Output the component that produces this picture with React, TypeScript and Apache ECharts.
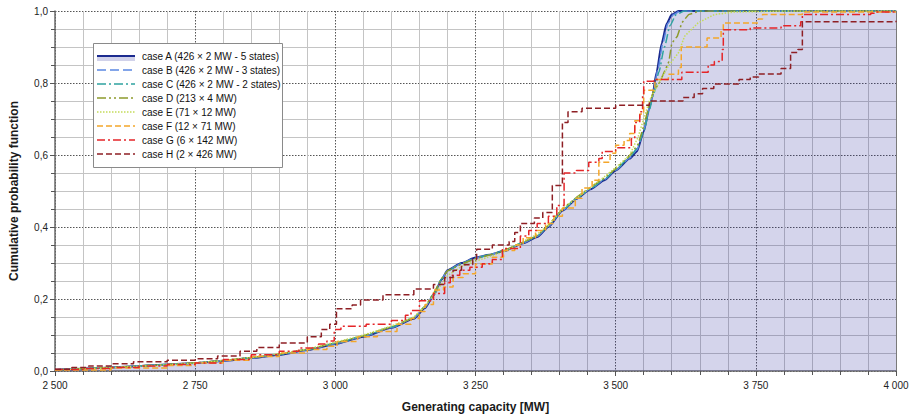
import React, { useEffect, useRef } from "react";
import * as echarts from "echarts";

type Pt = [number, number];

const caseNames = [
  "case A (426 × 2 MW - 5 states)",
  "case B (426 × 2 MW - 3 states)",
  "case C (426 × 2 MW - 2 states)",
  "case D (213 × 4 MW)",
  "case E (71 × 12 MW)",
  "case F (12 × 71 MW)",
  "case G (6 × 142 MW)",
  "case H (2 × 426 MW)",
];

const caseA: Pt[] = [[2500,0.003],[2550,0.006],[2600,0.01],[2650,0.014],[2700,0.018],[2750,0.022],[2800,0.028],[2850,0.036],[2900,0.045],[2950,0.058],[3000,0.075],[3050,0.095],[3100,0.12],[3140,0.145],[3160,0.175],[3175,0.21],[3190,0.255],[3200,0.28],[3225,0.3],[3250,0.315],[3275,0.323],[3300,0.333],[3335,0.355],[3360,0.372],[3380,0.4],[3405,0.445],[3430,0.478],[3455,0.505],[3480,0.53],[3500,0.557],[3525,0.59],[3538,0.61],[3550,0.665],[3560,0.73],[3565,0.76],[3573,0.83],[3582,0.91],[3591,0.965],[3600,0.99],[3612,1.0],[4000,1.0]];

const caseB: Pt[] = [[2500,0.003],[2600,0.01],[2700,0.018],[2750,0.022],[2800,0.028],[2850,0.036],[2900,0.046],[2950,0.059],[3000,0.076],[3050,0.096],[3100,0.121],[3140,0.147],[3160,0.178],[3175,0.212],[3190,0.256],[3200,0.279],[3225,0.299],[3250,0.314],[3275,0.323],[3300,0.334],[3335,0.356],[3360,0.374],[3380,0.402],[3405,0.446],[3430,0.479],[3455,0.506],[3480,0.532],[3500,0.558],[3525,0.592],[3538,0.615],[3550,0.668],[3560,0.73],[3566,0.765],[3575,0.835],[3584,0.91],[3593,0.965],[3603,0.99],[3615,1.0],[4000,1.0]];

const caseC: Pt[] = [[2500,0.003],[2600,0.01],[2700,0.018],[2750,0.022],[2800,0.029],[2850,0.037],[2900,0.046],[2950,0.059],[3000,0.077],[3050,0.097],[3100,0.122],[3140,0.148],[3160,0.179],[3175,0.213],[3190,0.256],[3200,0.278],[3225,0.298],[3250,0.313],[3275,0.323],[3300,0.334],[3335,0.357],[3360,0.375],[3380,0.403],[3405,0.447],[3430,0.48],[3455,0.507],[3480,0.533],[3500,0.56],[3525,0.594],[3538,0.618],[3550,0.665],[3560,0.725],[3567,0.765],[3577,0.83],[3587,0.9],[3597,0.96],[3608,0.99],[3622,1.0],[4000,1.0]];

const caseD: Pt[] = [[2500,0.003],[2600,0.01],[2700,0.018],[2750,0.023],[2800,0.029],[2850,0.037],[2900,0.047],[2950,0.06],[3000,0.078],[3050,0.098],[3100,0.123],[3140,0.148],[3160,0.18],[3175,0.215],[3190,0.258],[3200,0.278],[3225,0.297],[3250,0.312],[3275,0.322],[3300,0.334],[3335,0.358],[3360,0.376],[3380,0.405],[3405,0.45],[3430,0.482],[3455,0.51],[3480,0.536],[3500,0.562],[3525,0.598],[3540,0.63],[3550,0.68],[3560,0.74],[3567,0.775],[3578,0.8],[3588,0.835],[3595,0.86],[3600,0.91],[3610,0.93],[3618,0.967],[3630,0.99],[3650,1.0],[4000,1.0]];

const caseE: Pt[] = [[2500,0.003],[2600,0.009],[2700,0.017],[2750,0.022],[2800,0.029],[2850,0.038],[2900,0.048],[2950,0.061],[3000,0.08],[3050,0.1],[3100,0.125],[3140,0.15],[3160,0.18],[3180,0.22],[3200,0.265],[3225,0.29],[3250,0.305],[3300,0.33],[3335,0.36],[3360,0.38],[3380,0.405],[3405,0.45],[3430,0.48],[3455,0.51],[3480,0.54],[3500,0.565],[3525,0.6],[3540,0.65],[3550,0.7],[3560,0.75],[3577,0.8],[3594,0.847],[3612,0.884],[3623,0.93],[3647,0.967],[3676,0.99],[3711,0.997],[3800,1.0],[4000,1.0]];

const caseF: Pt[] = [[2500,0.003],[2600,0.008],[2700,0.015],[2750,0.022],[2800,0.03],[2850,0.04],[2900,0.05],[2950,0.06],[2985,0.069],[3003,0.082],[3040,0.095],[3075,0.11],[3110,0.13],[3135,0.146],[3150,0.165],[3160,0.185],[3175,0.225],[3193,0.233],[3210,0.26],[3228,0.27],[3250,0.297],[3280,0.316],[3300,0.335],[3320,0.35],[3335,0.37],[3357,0.39],[3375,0.41],[3390,0.43],[3405,0.453],[3428,0.48],[3440,0.508],[3458,0.53],[3470,0.58],[3490,0.605],[3500,0.627],[3515,0.64],[3525,0.66],[3534,0.695],[3543,0.714],[3550,0.78],[3570,0.81],[3594,0.824],[3612,0.843],[3617,0.9],[3663,0.925],[3688,0.948],[3692,0.967],[3754,0.978],[3762,0.99],[3833,0.997],[4000,0.998]];

const caseG: Pt[] = [[2500,0.004],[2550,0.007],[2600,0.01],[2650,0.014],[2700,0.018],[2750,0.022],[2800,0.032],[2850,0.045],[2900,0.055],[2935,0.064],[2970,0.075],[2985,0.083],[2998,0.115],[3010,0.124],[3055,0.13],[3100,0.14],[3125,0.155],[3135,0.168],[3150,0.195],[3175,0.215],[3195,0.245],[3205,0.266],[3222,0.28],[3240,0.288],[3262,0.298],[3280,0.31],[3298,0.34],[3330,0.375],[3345,0.39],[3360,0.41],[3380,0.43],[3395,0.46],[3408,0.55],[3430,0.557],[3452,0.58],[3470,0.59],[3476,0.61],[3500,0.62],[3528,0.645],[3534,0.69],[3543,0.72],[3548,0.765],[3550,0.805],[3568,0.81],[3618,0.83],[3665,0.85],[3676,0.86],[3690,0.893],[3692,0.948],[3740,0.953],[3795,0.959],[3830,0.97],[3833,0.99],[3955,0.994],[3966,0.997],[4000,0.997]];

const caseH: Pt[] = [[2500,0.005],[2530,0.01],[2560,0.014],[2600,0.02],[2640,0.026],[2700,0.03],[2750,0.034],[2790,0.042],[2830,0.055],[2860,0.065],[2900,0.078],[2950,0.095],[2975,0.115],[2990,0.13],[3002,0.173],[3030,0.183],[3045,0.197],[3085,0.212],[3140,0.228],[3175,0.24],[3195,0.26],[3210,0.28],[3225,0.295],[3245,0.31],[3252,0.338],[3280,0.35],[3310,0.36],[3320,0.385],[3330,0.41],[3355,0.425],[3370,0.44],[3387,0.515],[3405,0.69],[3415,0.72],[3440,0.73],[3500,0.738],[3560,0.75],[3620,0.76],[3640,0.77],[3655,0.785],[3675,0.797],[3720,0.81],[3740,0.817],[3755,0.825],[3795,0.84],[3812,0.885],[3825,0.893],[3833,0.97],[4000,0.973]];

const caseData: Pt[][] = [caseA, caseB, caseC, caseD, caseE, caseF, caseG, caseH];
const caseColors = ["#1b2a8f", "#5b88e2", "#2fa3a0", "#8d9a2c", "#c4dc5a", "#f4a62a", "#e52528", "#8e1f24"];
const caseDash: (number[] | "solid")[] = ["solid", [9, 4], [9, 3, 2, 3], [9, 3, 2, 3, 2, 3], [1.5, 1.5], [6, 3], [8, 3, 2, 3], [6, 3]];
const caseWidth = [2, 1.5, 1.5, 1.5, 1.5, 1.5, 1.5, 1.5];
const caseStep: (false | "end")[] = [false, false, false, false, false, "end", "end", "end"];

const FONT = "'Liberation Sans', Arial, Helvetica, sans-serif";

function fmtX(v: number): string {
  return String(Math.round(v)).replace(/\B(?=(\d{3})+(?!\d))/g, " ");
}
function fmtY(v: number): string {
  return v.toFixed(1).replace(".", ",");
}

export default function App() {
  const ref = useRef<HTMLDivElement>(null);
  useEffect(() => {
    if (!ref.current) return;
    const chart = echarts.init(ref.current, undefined, { renderer: "svg" });

    const series: any[] = caseData.map((d, i) => ({
      name: caseNames[i],
      type: "line",
      data: d,
      step: caseStep[i],
      smooth: caseStep[i] ? false : i < 3 ? 0.2 : false,
      smoothMonotone: "x",
      showSymbol: false,
      symbol: "none",
      z: 2 + i,
      lineStyle: { color: caseColors[i], width: caseWidth[i], type: caseDash[i] },
      itemStyle: { color: caseColors[i] },
      areaStyle: i === 0 ? { color: "#2a2a9a", opacity: 0.2 } : undefined,
    }));

    const lx0 = 97, lx1 = 135, ly0 = 56, lgap = 14;
    const Z = 100;
    const legendEls: any[] = [
      { type: "rect", z: Z, shape: { x: 93.5, y: 43.5, width: 189, height: 124 }, style: { fill: "#fff", stroke: "#8a8a8a", lineWidth: 1 } },
      { type: "rect", z: Z + 1, shape: { x: lx0, y: ly0, width: lx1 - lx0, height: 5 }, style: { fill: "#d1d2ea" } },
    ];
    caseNames.forEach((n, i) => {
      const y = ly0 + i * lgap;
      legendEls.push({
        type: "line",
        z: Z + 2,
        shape: { x1: lx0, y1: y, x2: lx1, y2: y },
        style: { stroke: caseColors[i], lineWidth: caseWidth[i], lineDash: caseDash[i] === "solid" ? null : caseDash[i] },
      });
      legendEls.push({
        type: "text",
        z: Z + 2,
        x: 142, y: y,
        style: { text: n, fill: "#111", font: `10px ${FONT}`, verticalAlign: "middle" },
      });
    });

    const nameStyle = { fontWeight: "bold", fontSize: 12, color: "#1a1a1a", fontFamily: FONT };
    const labelStyle = { fontSize: 10, color: "#222", fontFamily: FONT };

    chart.setOption({
      animation: false,
      textStyle: { fontFamily: FONT },
      grid: { left: 49, right: 16, top: 11, bottom: 43, show: false },
      xAxis: {
        type: "value",
        min: 2500,
        max: 4000,
        interval: 250,
        name: "Generating capacity [MW]",
        nameLocation: "middle",
        nameGap: 30,
        nameTextStyle: nameStyle,
        axisLine: { show: true, onZero: false, lineStyle: { color: "#6a6a6a", width: 1.5 } },
        axisTick: { show: true, length: 5, lineStyle: { color: "#555" } },
        minorTick: { show: true, splitNumber: 5, length: 4, lineStyle: { color: "#555" } },
        axisLabel: { formatter: fmtX, margin: 9, ...labelStyle },
        splitLine: { show: true, lineStyle: { color: "#555", type: [1.5, 1.5], width: 1 } },
        minorSplitLine: { show: true, lineStyle: { color: "#c4c4c4", width: 1 } },
      },
      yAxis: [
        {
          type: "value",
          min: 0,
          max: 1,
          interval: 0.2,
          name: "Cumulative probability function",
          nameLocation: "middle",
          nameGap: 35,
          nameTextStyle: nameStyle,
          axisLine: { show: true, onZero: false, lineStyle: { color: "#6a6a6a", width: 1.5 } },
          axisTick: { show: true, length: 5, lineStyle: { color: "#555" } },
          minorTick: { show: true, splitNumber: 4, length: 4, lineStyle: { color: "#555" } },
          axisLabel: { formatter: fmtY, margin: 7, ...labelStyle },
          splitLine: { show: true, lineStyle: { color: "#555", type: [1.5, 1.5], width: 1 } },
          minorSplitLine: { show: true, lineStyle: { color: "#c4c4c4", width: 1 } },
        },
        {
          type: "value",
          position: "right",
          min: 0,
          max: 1,
          interval: 0.2,
          axisLine: { show: true, onZero: false, lineStyle: { color: "#7a7a7a", width: 1 } },
          axisTick: { show: false },
          axisLabel: { show: false },
          splitLine: { show: false },
        },
      ],
      series,
      graphic: [{ type: "group", z: Z, children: legendEls }],
    });
    return () => chart.dispose();
  }, []);

  return (
    <div
      ref={ref}
      style={{ position: "fixed", left: 0, top: 0, width: 912, height: 418, background: "#fff" }}
    />
  );
}
